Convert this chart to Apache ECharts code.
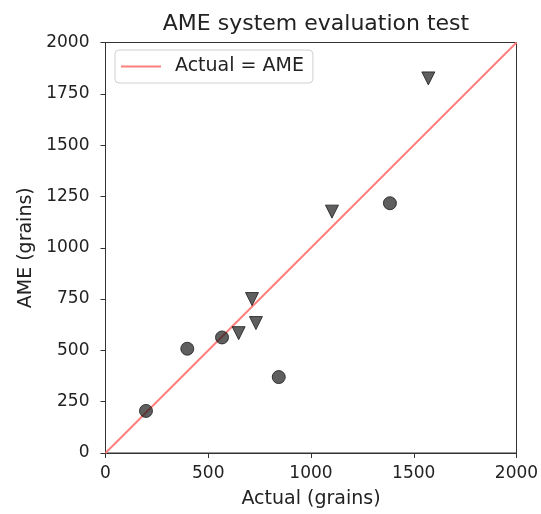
<!DOCTYPE html>
<html>
<head>
<meta charset="utf-8">
<script src="https://cdn.jsdelivr.net/npm/echarts@6/dist/echarts.min.js"></script>
<style>html,body{margin:0;padding:0;background:#fff}#c{width:541px;height:514px}</style>
</head>
<body>
<div id="c"></div>
<script>
const titleText = 'AME system evaluation test';
const xName = 'Actual (grains)';
const yName = 'AME (grains)';
const lineName = 'Actual = AME';
const identityLine = [[0, 0], [2000, 2000]];
const circleActual = [197, 398, 567, 843, 1384];
const circleAME = [205, 508, 563, 370, 1217];
const triActual = [648, 713, 732, 1102, 1571];
const triAME = [584, 750, 633, 1176, 1825];

const font = 'DejaVu Sans';
const markerStyle = { color: 'rgba(20,20,20,0.85)', borderColor: '#1a1a1a', borderWidth: 1 };
const plain = v => String(v);

const chart = echarts.init(document.getElementById('c'), null, { renderer: 'canvas' });
chart.setOption({
  backgroundColor: '#fff',
  animation: false,
  title: {
    text: titleText, left: 311, top: 8, textAlign: 'center',
    textStyle: { fontFamily: font, fontSize: 22, fontWeight: 'normal', color: '#222' }
  },
  legend: {
    data: [{ name: lineName, icon: 'rect' }], left: 115, top: 50, orient: 'vertical',
    itemWidth: 40, itemHeight: 2, padding: [7, 9, 7, 6],
    borderColor: '#d0d0d0', borderWidth: 1, borderRadius: 4, backgroundColor: '#fff',
    textStyle: { fontFamily: font, fontSize: 19, color: '#222', padding: [0, 0, 0, 9] }
  },
  grid: { left: 105.5, right: 24.5, top: 42.5, bottom: 61, outerBoundsMode: 'none', containLabel: false, show: true, borderColor: '#333', borderWidth: 1, backgroundColor: 'transparent' },
  xAxis: {
    type: 'value', min: 0, max: 2000, interval: 500,
    name: xName, nameLocation: 'middle', nameGap: 37,
    nameTextStyle: { fontFamily: font, fontSize: 19, color: '#222' },
    axisLine: { show: true, lineStyle: { color: '#333', width: 1 } },
    axisTick: { show: true, length: 5, lineStyle: { color: '#333' } },
    axisLabel: { fontFamily: font, fontSize: 17, color: '#222', margin: 12, formatter: plain },
    splitLine: { show: false }
  },
  yAxis: {
    type: 'value', min: 0, max: 2000, interval: 250,
    name: yName, nameLocation: 'middle', nameGap: 67,
    nameTextStyle: { fontFamily: font, fontSize: 19, color: '#222' },
    axisLine: { show: true, lineStyle: { color: '#333', width: 1 } },
    axisTick: { show: true, length: 5, lineStyle: { color: '#333' } },
    axisLabel: { fontFamily: font, fontSize: 17, color: '#222', margin: 16, formatter: plain },
    splitLine: { show: false }
  },
  series: [
    {
      name: lineName, type: 'line', data: identityLine, symbol: 'none', z: 2,
      lineStyle: { color: '#ff7f7f', width: 2 }, itemStyle: { color: '#ff7f7f' }
    },
    {
      name: 'circles', type: 'scatter', symbol: 'circle', symbolSize: 13, z: 3,
      data: circleActual.map((v, i) => [v, circleAME[i]]), itemStyle: markerStyle
    },
    {
      name: 'triangles', type: 'scatter', symbol: 'triangle', symbolRotate: 180, symbolSize: 13, z: 3,
      data: triActual.map((v, i) => [v, triAME[i]]), itemStyle: markerStyle
    }
  ]
});
</script>
</body>
</html>
